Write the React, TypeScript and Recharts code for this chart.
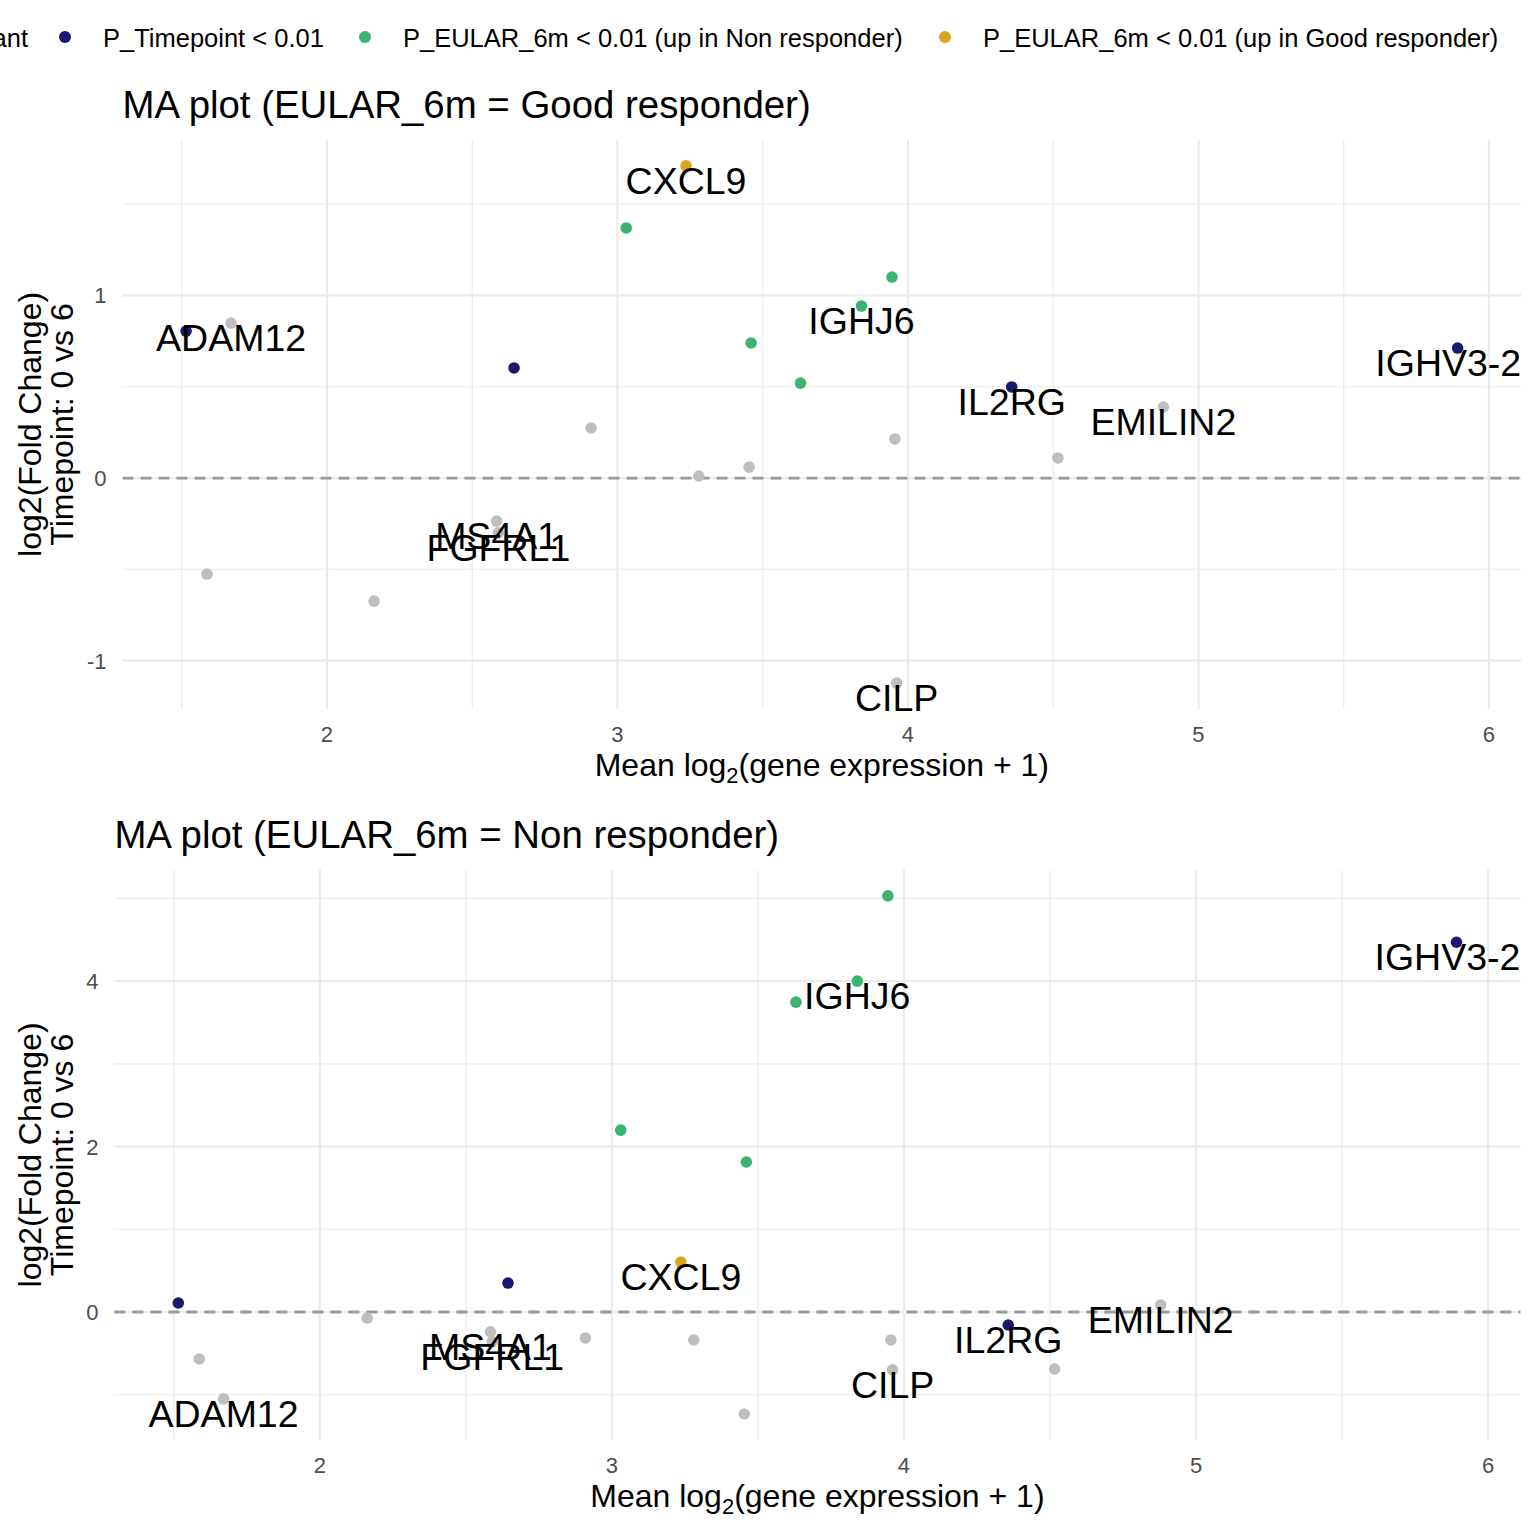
import React from 'react';
import { ScatterChart, Scatter, XAxis, YAxis, ReferenceLine } from 'recharts';

// ---------- data ----------
const geneLabels = ["", "ADAM12", "", "", "", "MS4A1", "FGFRL1", "", "", "CXCL9", "", "", "", "", "IGHJ6", "", "", "CILP", "IL2RG", "", "EMILIN2", "IGHV3-2"];
const meanExpr = [1.515, 1.67, 1.587, 2.162, 2.644, 2.584, 2.590, 2.909, 3.03, 3.236, 3.28, 3.453, 3.46, 3.63, 3.84, 3.945, 3.955, 3.961, 4.357, 4.516, 4.879, 5.892];
const lfcGood = [0.805, 0.849, -0.526, -0.674, 0.603, -0.236, -0.30, 0.274, 1.37, 1.71, 0.011, 0.06, 0.74, 0.52, 0.942, 1.101, 0.214, -1.123, 0.499, 0.11, 0.389, 0.712];
const lfcNon = [0.109, -1.05, -0.568, -0.073, 0.35, -0.24, -0.36, -0.314, 2.199, 0.604, -0.338, -1.233, 1.813, 3.746, 4.0, 5.03, -0.338, -0.70, -0.157, -0.689, 0.085, 4.47];
const category = ["time", "ns", "ns", "ns", "time", "ns", "ns", "ns", "non", "good", "ns", "ns", "non", "non", "non", "non", "ns", "ns", "time", "ns", "ns", "time"];

const legendKeys = ["ns", "time", "non", "good"];
const legendLabels = [
  "Not significant",
  "P_Timepoint < 0.01",
  "P_EULAR_6m < 0.01 (up in Non responder)",
  "P_EULAR_6m < 0.01 (up in Good responder)",
];
const catColors: Record<string, string> = {
  ns: "#BEBEBE",
  time: "#191970",
  non: "#3CB371",
  good: "#DAA520",
};

const xMajor = [2, 3, 4, 5, 6];
const xMinor = [1.5, 2.5, 3.5, 4.5, 5.5];
const topYMajor = [-1, 0, 1];
const topYMinor = [-0.5, 0.5, 1.5];
const botYMajor = [0, 2, 4];
const botYMinor = [-1, 1, 3, 5];

const FONT = '"Liberation Sans", Arial, Helvetica, sans-serif';

// ---------- helpers ----------
const expand = (vals: number[]): [number, number] => {
  const mn = Math.min(...vals);
  const mx = Math.max(...vals);
  const r = mx - mn;
  return [mn - 0.05 * r, mx + 0.05 * r];
};

const charW: Record<string, number> = {
  A: .667, B: .667, C: .722, D: .722, E: .667, F: .611, G: .778, H: .722, I: .278, J: .5, K: .667, L: .556,
  M: .833, N: .722, O: .778, P: .667, Q: .778, R: .722, S: .667, T: .611, U: .722, V: .667, W: .944, X: .667,
  Y: .667, Z: .611, '-': .333,
};
const textWidth = (s: string, size: number) =>
  s.split('').reduce((a, c) => a + (charW[c] ?? .556), 0) * size;

const LABEL_SIZE = 37.5;

type PanelProps = {
  title: string;
  lfc: number[];
  yMajor: number[];
  yMinor: number[];
  top: number;
  height: number;
  plotTop: number;
  plotBottom: number;
  plotLeft: number;
  plotRight: number;
};

function MAPanel({ title, lfc, yMajor, yMinor, top, height, plotTop, plotBottom, plotLeft, plotRight }: PanelProps) {
  const data = meanExpr.map((x, i) => ({ x, y: lfc[i], label: geneLabels[i], cat: category[i] }));
  const xDomain = expand(meanExpr);
  const yDomain = expand(lfc);
  const xAxisH = 60;
  const margin = { top: plotTop, right: 1536 - plotRight, bottom: height - plotBottom - xAxisH, left: 0 };
  const plotMidY = (plotTop + plotBottom) / 2;

  const XTick = (p: any) => (
    <text x={p.x} y={plotBottom + 33} textAnchor="middle" fontSize={22} fill="#4D4D4D" fontFamily={FONT}>
      {p.payload.value}
    </text>
  );
  const YTick = (p: any) => (
    <text x={plotLeft - 16} y={p.y + 8} textAnchor="end" fontSize={22} fill="#4D4D4D" fontFamily={FONT}>
      {p.payload.value}
    </text>
  );
  const XTitle = () => (
    <text x={(plotLeft + plotRight) / 2} y={plotBottom + 67} textAnchor="middle" fontSize={32} fill="#000" fontFamily={FONT}>
      Mean log<tspan fontSize={22} dy={7}>2</tspan><tspan dy={-7}>(gene expression + 1)</tspan>
    </text>
  );
  const YTitle = () => (
    <g fontFamily={FONT} fontSize={32} fill="#000">
      <text transform={`translate(30,${plotMidY}) rotate(-90)`} textAnchor="middle" dy="0.35em">log2(Fold Change)</text>
      <text transform={`translate(62,${plotMidY}) rotate(-90)`} textAnchor="middle" dy="0.35em">Timepoint: 0 vs 6</text>
    </g>
  );

  const renderDot = (p: any) => (
    <circle cx={p.cx} cy={p.cy} r={5.8} fill={catColors[p.payload.cat]} />
  );
  const renderLabel = (p: any) => {
    const lab: string = p.payload.label;
    if (!lab) return <g />;
    const w = textWidth(lab, LABEL_SIZE);
    let x = p.cx;
    if (x + w / 2 > plotRight) x = plotRight - w / 2;
    if (x - w / 2 < plotLeft) x = plotLeft + w / 2;
    return (
      <text x={x} y={p.cy + 28} textAnchor="middle" fontSize={LABEL_SIZE} fill="#000" fontFamily={FONT}>
        {lab}
      </text>
    );
  };

  return (
    <div style={{ position: 'absolute', left: 0, top, width: 1536, height }}>
      <ScatterChart width={1536} height={height} margin={margin}>
        <XAxis
          type="number"
          dataKey="x"
          domain={xDomain}
          ticks={xMajor}
          interval={0}
          tickLine={false}
          axisLine={false}
          height={xAxisH}
          tick={XTick}
          label={{ content: XTitle }}
        />
        <YAxis
          type="number"
          dataKey="y"
          domain={yDomain}
          ticks={yMajor}
          interval={0}
          tickLine={false}
          axisLine={false}
          width={plotLeft}
          tick={YTick}
          label={{ content: YTitle }}
        />
        {xMinor.map((v) => (
          <ReferenceLine key={'xm' + v} x={v} stroke="#EBEBEB" strokeWidth={1.1} />
        ))}
        {yMinor.map((v) => (
          <ReferenceLine key={'ym' + v} y={v} stroke="#EBEBEB" strokeWidth={1.1} />
        ))}
        {xMajor.map((v) => (
          <ReferenceLine key={'xM' + v} x={v} stroke="#EBEBEB" strokeWidth={2.2} />
        ))}
        {yMajor.map((v) => (
          <ReferenceLine key={'yM' + v} y={v} stroke="#EBEBEB" strokeWidth={2.2} />
        ))}
        <ReferenceLine y={0} stroke="#999999" strokeWidth={2.8} strokeDasharray="11 7" />
        <Scatter data={data} isAnimationActive={false} shape={renderDot} />
        <Scatter data={data} isAnimationActive={false} shape={renderLabel} />
      </ScatterChart>
      <svg width={1536} height={height} style={{ position: 'absolute', left: 0, top: 0, pointerEvents: 'none' }}>
        <text x={plotLeft} y={plotTop - 22} fontSize={38.4} fill="#000" fontFamily={FONT}>{title}</text>
      </svg>
    </div>
  );
}

function TopLegend() {
  // first item is right-aligned (its start lies off-canvas, as in the reference)
  const textX = [28, 103, 403, 983];
  const firstWidth = 160;
  return (
    <svg width={1536} height={70} style={{ position: 'absolute', left: 0, top: 0, pointerEvents: 'none' }}>
      <g fontFamily={FONT} fontSize={25.5} fill="#000">
        {legendKeys.map((k, i) => {
          const start = i === 0 ? textX[0] - firstWidth : textX[i];
          return (
            <g key={k}>
              <circle cx={start - 38} cy={37} r={6} fill={catColors[k]} />
              {i === 0 ? (
                <text x={textX[0]} y={47} textAnchor="end">{legendLabels[i]}</text>
              ) : (
                <text x={start} y={47}>{legendLabels[i]}</text>
              )}
            </g>
          );
        })}
      </g>
    </svg>
  );
}

export default function App() {
  return (
    <div style={{ position: 'absolute', left: 0, top: 0, width: 1536, height: 1536, background: '#fff', overflow: 'hidden' }}>
      <MAPanel
        title="MA plot (EULAR_6m = Good responder)"
        lfc={lfcGood}
        yMajor={topYMajor}
        yMinor={topYMinor}
        top={0}
        height={790}
        plotTop={140}
        plotBottom={708.9}
        plotLeft={122.5}
        plotRight={1521.2}
      />
      <MAPanel
        title="MA plot (EULAR_6m = Non responder)"
        lfc={lfcNon}
        yMajor={botYMajor}
        yMinor={botYMinor}
        top={790}
        height={746}
        plotTop={80}
        plotBottom={649.9}
        plotLeft={114.4}
        plotRight={1520.4}
      />
      <TopLegend />
    </div>
  );
}
